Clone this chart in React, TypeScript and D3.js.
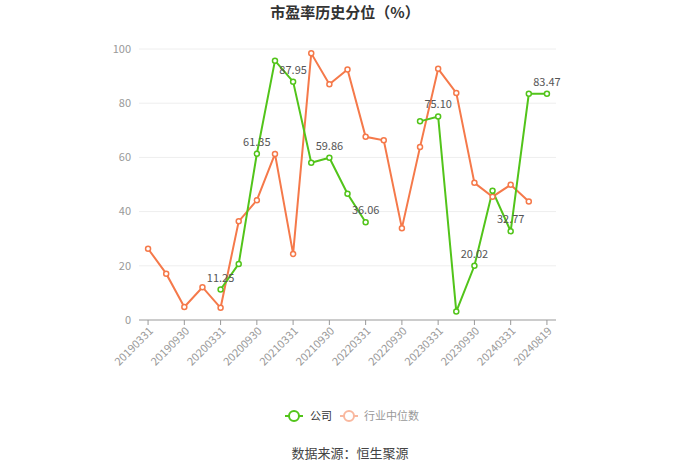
import React from "react";
import * as d3 from "d3";

const categories = [
  "20190331","20190630","20190930","20191231",
  "20200331","20200630","20200930","20201231",
  "20210331","20210630","20210930","20211231",
  "20220331","20220630","20220930","20221231",
  "20230331","20230630","20230930","20231231",
  "20240331","20240630","20240819",
];
const company: (number | null)[] = [
  null, null, null, null,
  11.25, 20.7, 61.35, 95.7,
  87.95, 58.0, 59.86, 46.6,
  36.06, null, null, 73.3,
  75.10, 3.1, 20.02, 47.7,
  32.77, 83.47, 83.47,
];
const industry: (number | null)[] = [
  26.3, 17.1, 4.8, 12.1,
  4.5, 36.4, 44.2, 61.3,
  24.4, 98.4, 87.0, 92.4,
  67.6, 66.3, 33.9, 63.8,
  92.7, 83.8, 50.6, 45.5,
  49.9, 43.7, null,
];
const yTicks = [0, 20, 40, 60, 80, 100];

const GREEN = "#52c41a";
const ORANGE = "#f5794a";
const FONT = "'Noto Sans CJK SC', 'Noto Sans', sans-serif";

export default function App() {
  const W = 700, H = 473;
  const left = 139, right = 556, top = 49, bottom = 320;
  const x = d3.scaleBand<string>().domain(categories).range([left, right]);
  const cx = (i: number) => (x(categories[i]) as number) + x.bandwidth() / 2;
  const y = d3.scaleLinear().domain([0, 100]).range([bottom, top]);

  const line = d3
    .line<number | null>()
    .defined((d) => d !== null)
    .x((_, i) => cx(i))
    .y((d) => y(d as number));

  const labelIdx = categories.map((_, i) => i).filter((i) => i % 2 === 0);

  return (
    <svg width={W} height={H} style={{ position: "absolute", left: 0, top: 0 }} fontFamily={FONT}>
      <rect width={W} height={H} fill="#fff" />
      <text x={345} y={18} textAnchor="middle" fontSize={15} fontWeight="bold" fill="#333">
        市盈率历史分位（%）
      </text>
      {yTicks.map((t) => (
        <g key={t}>
          {t !== 0 && <line x1={left} x2={right} y1={y(t)} y2={y(t)} stroke="#eeeeee" />}
          <text x={left - 8} y={y(t)} dy="0.35em" textAnchor="end" fontSize={11} fill="#999">
            {t}
          </text>
        </g>
      ))}
      <line x1={left} x2={right} y1={bottom} y2={bottom} stroke="#999" />
      {labelIdx.map((i) => (
        <g key={i}>
          <line x1={cx(i)} x2={cx(i)} y1={bottom} y2={bottom + 5} stroke="#999" />
          <text
            transform={`translate(${cx(i) + 3},${bottom + 9}) rotate(-45)`}
            textAnchor="end"
            dy="0.35em"
            fontSize={11}
            fill="#999"
          >
            {categories[i]}
          </text>
        </g>
      ))}
      <path d={line(industry) || ""} fill="none" stroke={ORANGE} strokeWidth={2} />
      <path d={line(company) || ""} fill="none" stroke={GREEN} strokeWidth={2} />
      {industry.map((v, i) =>
        v === null ? null : (
          <circle key={"o" + i} cx={cx(i)} cy={y(v)} r={2.5} fill="#fff" stroke={ORANGE} strokeWidth={1.5} />
        )
      )}
      {company.map((v, i) =>
        v === null ? null : (
          <circle key={"g" + i} cx={cx(i)} cy={y(v)} r={2.5} fill="#fff" stroke={GREEN} strokeWidth={1.5} />
        )
      )}
      {company.map((v, i) =>
        v === null || i % 2 !== 0 ? null : (
          <text key={"l" + i} x={cx(i)} y={y(v) - 8} textAnchor="middle" fontSize={11} fill="#555">
            {v.toFixed(2)}
          </text>
        )
      )}
      <g>
        <line x1={285} x2={303} y1={416} y2={416} stroke={GREEN} strokeWidth={2} />
        <circle cx={294} cy={416} r={5} fill="#fff" stroke={GREEN} strokeWidth={2} />
        <text x={310} y={416} dy="0.35em" fontSize={11} fill="#333">公司</text>
        <line x1={340} x2={358} y1={416} y2={416} stroke="#f9b89f" strokeWidth={2} />
        <circle cx={349} cy={416} r={5} fill="#fff" stroke="#f9b89f" strokeWidth={2} />
        <text x={364} y={416} dy="0.35em" fontSize={11} fill="#999">行业中位数</text>
      </g>
      <text x={350} y={458} textAnchor="middle" fontSize={13} fill="#444">
        数据来源：恒生聚源
      </text>
    </svg>
  );
}
